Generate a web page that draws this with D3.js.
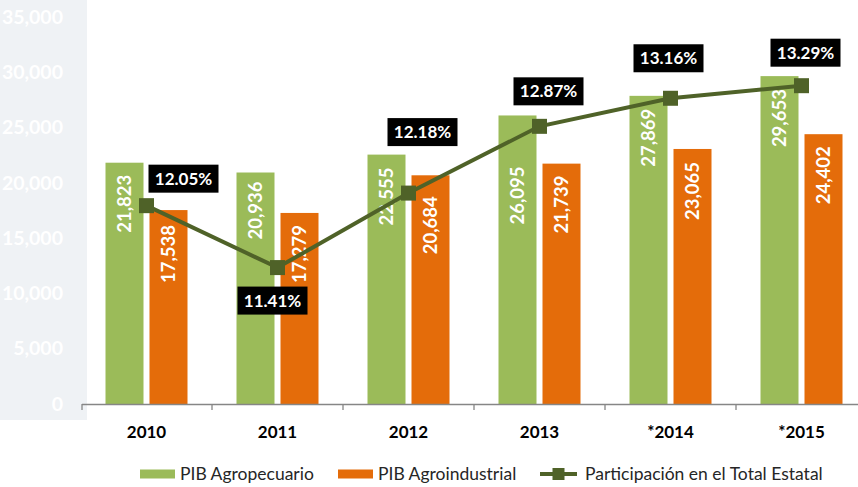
<!DOCTYPE html>
<html>
<head>
<meta charset="utf-8">
<script src="https://cdn.jsdelivr.net/npm/d3@7/dist/d3.min.js"></script>
<style>
  html, body { margin: 0; padding: 0; background: #ffffff; }
  svg { display: block; font-family: Lato, "Open Sans", sans-serif; }
</style>
</head>
<body>
<svg id="chart" width="858" height="487"></svg>
<script>
// ---- data ----
const years = ["2010", "2011", "2012", "2013", "*2014", "*2015"];
const pibAgropecuario = [21823, 20936, 22555, 26095, 27869, 29653];
const pibAgroindustrial = [17538, 17279, 20684, 21739, 23065, 24402];
const participacion = [12.05, 11.41, 12.18, 12.87, 13.16, 13.29];
const yTicks = [0, 5000, 10000, 15000, 20000, 25000, 30000, 35000];
const seriesNames = ["PIB Agropecuario", "PIB Agroindustrial", "Participación en el Total Estatal"];

// ---- layout tweaks for the labels ----
// distance (px) from the top of each bar to the end of its rotated value label
const agroLabelGap = [12, 9, 13, 51, 13, 13];
const industLabelGap = [15, 12, 21, 12, 13, 12];
// offset (px) of each percentage box centre from its marker
const pctBoxOffset = [[37, -27], [-5, 33], [14, -61], [9, -35], [-2, -40], [4, -33]];

const colors = { agro: "#9bbb59", indust: "#e46c0a", line: "#4f6228" };

const svg = d3.select("#chart");
const plotTop = 17, plotBottom = 404, plotLeft = 81, plotRight = 867;

// light panel behind the value axis
svg.append("rect").attr("x", 0).attr("y", 0).attr("width", 87).attr("height", 420)
  .attr("fill", "#eff2f5");

const x = d3.scaleBand().domain(years).range([plotLeft, plotRight]).padding(0);
const bw = x.bandwidth();
const groupW = bw * 82 / 131;
const x1 = d3.scaleBand().domain(["agro", "indust"])
  .range([(bw - groupW) / 2, (bw + groupW) / 2]).paddingInner(6 / 44);
const y = d3.scaleLinear().domain([0, 35000]).range([plotBottom, plotTop]);
const y2 = d3.scaleLinear().domain([10, 14]).range([plotBottom, plotTop]);

// value axis labels
const yAxis = svg.append("g").attr("transform", "translate(63,0)")
  .call(d3.axisLeft(y).tickValues(yTicks).tickFormat(d3.format(",")).tickSize(0).tickPadding(0));
yAxis.select(".domain").remove();
yAxis.selectAll("text").attr("fill", "#ffffff").attr("font-size", 19.5).attr("font-weight", "bold")
  .attr("font-family", "Lato, sans-serif");

// bars
const fs = 18.5;
const groups = svg.append("g").selectAll("g").data(years).join("g")
  .attr("transform", d => `translate(${x(d)},0)`);

function drawBars(key, values, gaps) {
  const bx = x1(key), w = x1.bandwidth();
  groups.append("rect")
    .attr("x", bx).attr("width", w)
    .attr("y", (d, i) => y(values[i]))
    .attr("height", (d, i) => plotBottom - y(values[i]))
    .attr("fill", colors[key]);
  groups.append("text")
    .attr("transform", (d, i) => `translate(${bx + w / 2 + fs * 0.36},${y(values[i]) + gaps[i]}) rotate(-90)`)
    .attr("text-anchor", "end")
    .attr("fill", "#ffffff").attr("font-size", fs).attr("font-weight", "bold")
    .text((d, i) => d3.format(",")(values[i]));
}
drawBars("agro", pibAgropecuario, agroLabelGap);
drawBars("indust", pibAgroindustrial, industLabelGap);

// category axis
const xAxis = svg.append("g").attr("transform", `translate(0,${plotBottom})`)
  .call(d3.axisBottom(x).tickSize(0).tickPadding(22));
xAxis.select(".domain").remove();
xAxis.selectAll("text").attr("font-size", 17).attr("font-weight", "bold").attr("fill", "#000")
  .attr("font-family", "Lato, sans-serif");
svg.append("line").attr("x1", plotLeft + 1).attr("x2", plotRight)
  .attr("y1", plotBottom + 0.5).attr("y2", plotBottom + 0.5)
  .attr("stroke", "#868686").attr("stroke-width", 1.3);
const bounds = years.map(d => x(d)).concat([plotRight]);
svg.append("g").selectAll("line").data(bounds).join("line")
  .attr("x1", d => Math.max(d, plotLeft + 1)).attr("x2", d => Math.max(d, plotLeft + 1))
  .attr("y1", plotBottom).attr("y2", plotBottom + 6)
  .attr("stroke", "#868686").attr("stroke-width", 1.3);

// share line
const pts = years.map((d, i) => [x(d) + bw / 2, y2(participacion[i])]);
svg.append("path").attr("d", d3.line()(pts))
  .attr("fill", "none").attr("stroke", colors.line).attr("stroke-width", 4);
svg.append("g").selectAll("rect").data(pts).join("rect")
  .attr("x", d => d[0] - 7.5).attr("y", d => d[1] - 7.5)
  .attr("width", 15).attr("height", 15).attr("fill", colors.line);

// percentage boxes
const pctFmt = d => d.toFixed(2) + "%";
const boxes = svg.append("g").selectAll("g").data(pts).join("g")
  .attr("transform", (d, i) => `translate(${d[0] + pctBoxOffset[i][0]},${d[1] + pctBoxOffset[i][1]})`);
boxes.append("rect").attr("x", -35).attr("y", -14).attr("width", 70).attr("height", 28).attr("fill", "#000");
boxes.append("text").attr("text-anchor", "middle").attr("y", 6)
  .attr("fill", "#fff").attr("font-size", 17).attr("font-weight", "bold")
  .text((d, i) => pctFmt(participacion[i]));

// legend
const legend = svg.append("g").attr("font-size", 17.5).attr("fill", "#262626");
const legendItems = [
  { x: 140, tx: 180, kind: "box", color: colors.agro, label: seriesNames[0] },
  { x: 338, tx: 378, kind: "box", color: colors.indust, label: seriesNames[1] },
  { x: 540, tx: 585, kind: "line", color: colors.line, label: seriesNames[2] }
];
const ly = 474;
legendItems.forEach(it => {
  if (it.kind === "box") {
    legend.append("rect").attr("x", it.x).attr("y", ly - 4.5).attr("width", 35).attr("height", 9).attr("fill", it.color);
  } else {
    legend.append("line").attr("x1", it.x).attr("x2", it.x + 37).attr("y1", ly).attr("y2", ly)
      .attr("stroke", it.color).attr("stroke-width", 4);
    legend.append("rect").attr("x", it.x + 18.5 - 6).attr("y", ly - 6).attr("width", 12).attr("height", 12).attr("fill", it.color);
  }
  legend.append("text").attr("x", it.tx).attr("y", ly + 6).text(it.label);
});
</script>
</body>
</html>
